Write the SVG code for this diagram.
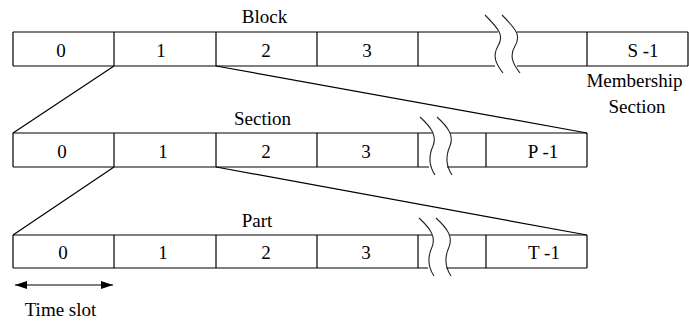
<svg xmlns="http://www.w3.org/2000/svg" width="689" height="322" viewBox="0 0 689 322">
  <style>
    .ln { stroke: #000; stroke-width: 1.2; fill: none; }
    .wv { stroke: #222; stroke-width: 1.1; fill: none; }
    text { font-family: "Liberation Serif", "Times New Roman", serif; font-size: 19px; fill: #000; text-anchor: middle; }
  </style>
  <defs>
    <marker id="ah" viewBox="0 0 12 8" refX="12" refY="4" markerWidth="12" markerHeight="8" markerUnits="userSpaceOnUse" orient="auto-start-reverse">
      <path d="M0,0 L12,4 L0,8 z" fill="#000"/>
    </marker>
    <!-- break symbol: two wavy strokes -->
    <g id="brk">
      <path class="wv" d="M0,0 C12,11 17,19 13,29 C8,40 9,49 15,58"/>
      <path class="wv" d="M17,0 C29,11 34,19 30,29 C25,40 26,49 32,58"/>
    </g>
  </defs>

  <!-- Block row -->
  <g id="block">
    <path class="ln" d="M13,32 H498 M13,66 H495 M517,32 H688 M517,66 H688 M13,32 V66 M114,32 V66 M216,32 V66 M317,32 V66 M418,32 V66 M587,32 V66 M688,32 V66"/>
    <path class="wv" d="M485,15 C500,30 504,36 498,46 C492,56 496,64 503,73"/>
    <path class="wv" d="M502,15 C517,30 521,36 515,46 C509,56 513,64 520,73"/>
    <text x="264.5" y="23">Block</text>
    <text x="61" y="57">0</text>
    <text x="161" y="57">1</text>
    <text x="266" y="57">2</text>
    <text x="367" y="57">3</text>
    <text x="643" y="57">S -1</text>
  </g>

  <g id="membership-label">
    <text x="634.5" y="87">Membership</text>
    <text x="637" y="113">Section</text>
  </g>

  <!-- Section row -->
  <g id="section">
    <path class="ln" d="M13,133 H433 M13,167 H429 M450,133 H587 M447,167 H587 M13,133 V167 M114,133 V167 M216,133 V167 M317,133 V167 M418,133 V167 M486,133 V167 M587,133 V167"/>
    <use href="#brk" x="420" y="117"/>
    <text x="262.5" y="125">Section</text>
    <text x="62" y="158">0</text>
    <text x="163" y="158">1</text>
    <text x="266" y="158">2</text>
    <text x="366" y="158">3</text>
    <text x="543" y="158">P -1</text>
  </g>

  <!-- Part row -->
  <g id="part">
    <path class="ln" d="M13,235 H432 M13,268 H428 M449,235 H587 M446,268 H587 M13,235 V268 M114,235 V268 M216,235 V268 M317,235 V268 M418,235 V268 M486,235 V268 M587,235 V268"/>
    <use href="#brk" x="419" y="218"/>
    <text x="257" y="227">Part</text>
    <text x="63" y="259">0</text>
    <text x="163" y="259">1</text>
    <text x="266" y="259">2</text>
    <text x="366" y="259">3</text>
    <text x="544" y="259">T -1</text>
  </g>

  <!-- Expansion connectors -->
  <g id="connectors">
    <path class="ln" d="M114,66 L13,133 M216,66 L587,133"/>
    <path class="ln" d="M114,167 L13,235 M216,167 L587,235"/>
  </g>

  <!-- Time slot span -->
  <g id="timeslot">
    <line class="ln" x1="15" y1="285" x2="113" y2="285" marker-start="url(#ah)" marker-end="url(#ah)"/>
    <text x="60.5" y="316">Time slot</text>
  </g>
</svg>
